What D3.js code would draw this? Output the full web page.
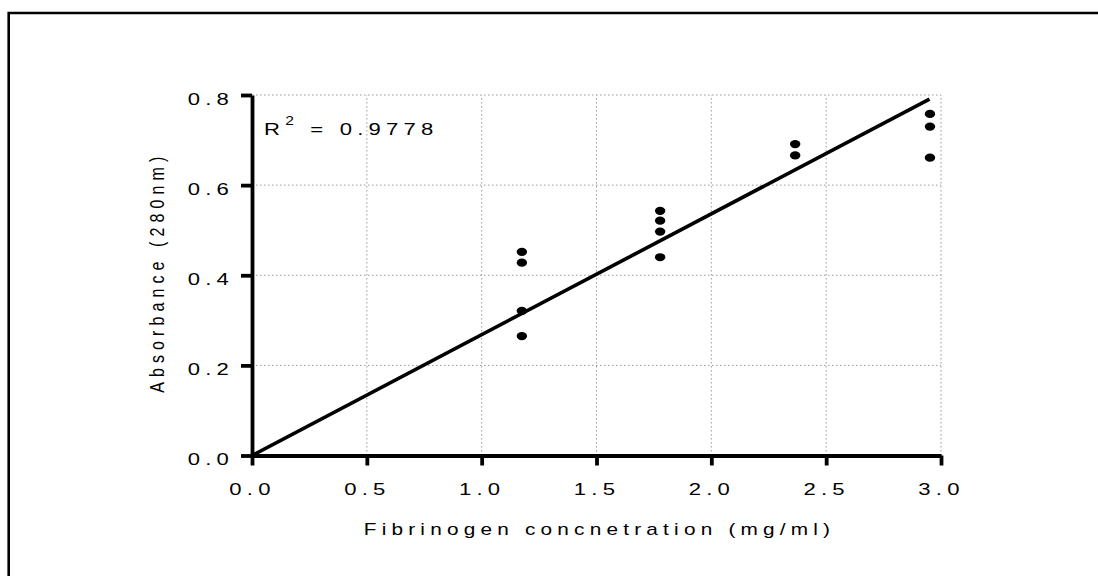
<!DOCTYPE html>
<html><head><meta charset="utf-8">
<script src="https://cdn.jsdelivr.net/npm/d3@7"></script>
<style>body{margin:0;background:#fff}svg{display:block}text{font-family:"Liberation Sans",Arial,sans-serif;fill:#000}</style>
</head><body>
<script>
const xTicks = [0.0, 0.5, 1.0, 1.5, 2.0, 2.5, 3.0];
const yTicks = [0.0, 0.2, 0.4, 0.6, 0.8];
const xValues = [1.175, 1.175, 1.175, 1.175, 1.777, 1.777, 1.777, 1.777, 2.365, 2.365, 2.952, 2.952, 2.952];
const yValues = [0.452, 0.428, 0.321, 0.265, 0.543, 0.521, 0.497, 0.440, 0.691, 0.666, 0.758, 0.730, 0.661];
const fitX = [0, 2.95];
const fitY = [0, 0.791];
const r2Text = "0.9778";
const xTitle = "Fibrinogen concnetration (mg/ml)";
const yTitle = "Absorbance (280nm)";

const W = 1098, H = 576;
const SX = 1.3; // horizontal stretch of the original figure
const svg = d3.select("body").append("svg").attr("width", W).attr("height", H);

// frame
svg.append("path").attr("d", "M8.7,576 V13 H1098").attr("fill", "none").attr("stroke", "#000").attr("stroke-width", 2.6);

const x = d3.scaleLinear().domain([0, 3]).range([252, 941]);
const y = d3.scaleLinear().domain([0, 0.8]).range([455.5, 95]);

// grid
const grid = svg.append("g").attr("stroke", "#9a9a9a").attr("stroke-width", 1).attr("stroke-dasharray", "1.5,2.5");
grid.selectAll(".gx").data(xTicks.slice(1)).join("line")
  .attr("x1", d => x(d)).attr("x2", d => x(d)).attr("y1", y(0)).attr("y2", y(0.8));
grid.selectAll(".gy").data(yTicks.slice(1)).join("line")
  .attr("x1", x(0)).attr("x2", x(3)).attr("y1", d => y(d)).attr("y2", d => y(d));

// axes
const fmt = d3.format(".1f");
const xa = svg.append("g").attr("transform", `translate(0,${y(0)})`)
  .call(d3.axisBottom(x).tickValues(xTicks).tickFormat(fmt).tickSize(10).tickSizeOuter(0));
const ya = svg.append("g").attr("transform", `translate(${x(0)},0)`)
  .call(d3.axisLeft(y).tickValues(yTicks).tickFormat(fmt).tickSize(11).tickSizeOuter(0));
[xa, ya].forEach(a => {
  a.select(".domain").attr("stroke", "#000").attr("stroke-width", 3.8);
  a.selectAll(".tick line").attr("stroke", "#000").attr("stroke-width", 3.8);
  a.selectAll(".tick text").attr("font-size", 17).attr("font-family", "Liberation Sans, Arial, sans-serif")
    .attr("letter-spacing", "4px").attr("fill", "#000").attr("dy", 0).attr("transform", `scale(${SX},1)`);
});
xa.selectAll(".tick text").attr("x", 0).attr("y", 39.5).attr("text-anchor", "middle");
ya.selectAll(".tick text").attr("x", -18 / SX).attr("y", 9).attr("text-anchor", "end");

// fit line
svg.append("line")
  .attr("x1", x(fitX[0])).attr("y1", y(fitY[0])).attr("x2", x(fitX[1])).attr("y2", y(fitY[1]))
  .attr("stroke", "#000").attr("stroke-width", 3.6);

// points
svg.selectAll(".pt").data(xValues.map((v, i) => [v, yValues[i]])).join("ellipse")
  .attr("cx", d => x(d[0])).attr("cy", d => y(d[1])).attr("rx", 5.2).attr("ry", 4.1).attr("fill", "#000");

// R2
const r = svg.append("text").attr("transform", `translate(264,135) scale(${SX},1)`)
  .attr("font-size", 17).attr("letter-spacing", "4px");
r.append("tspan").text("R");
r.append("tspan").attr("font-size", 12).attr("dy", -10).attr("dx", 0).text("2");
r.append("tspan").attr("dy", 10).text(" = " + r2Text);

// titles
svg.append("text").attr("transform", `translate(${(x(0) + x(3)) / 2 + 3},535) scale(${SX},1)`).attr("text-anchor", "middle")
  .attr("font-size", 16).attr("letter-spacing", "4px").text(xTitle);
svg.append("text").attr("transform", `translate(164,${(y(0) + y(0.8)) / 2 - 3}) scale(${SX},1) rotate(-90)`).attr("text-anchor", "middle")
  .attr("font-size", 16).attr("letter-spacing", "5.1px").text(yTitle);
</script>
</body></html>
